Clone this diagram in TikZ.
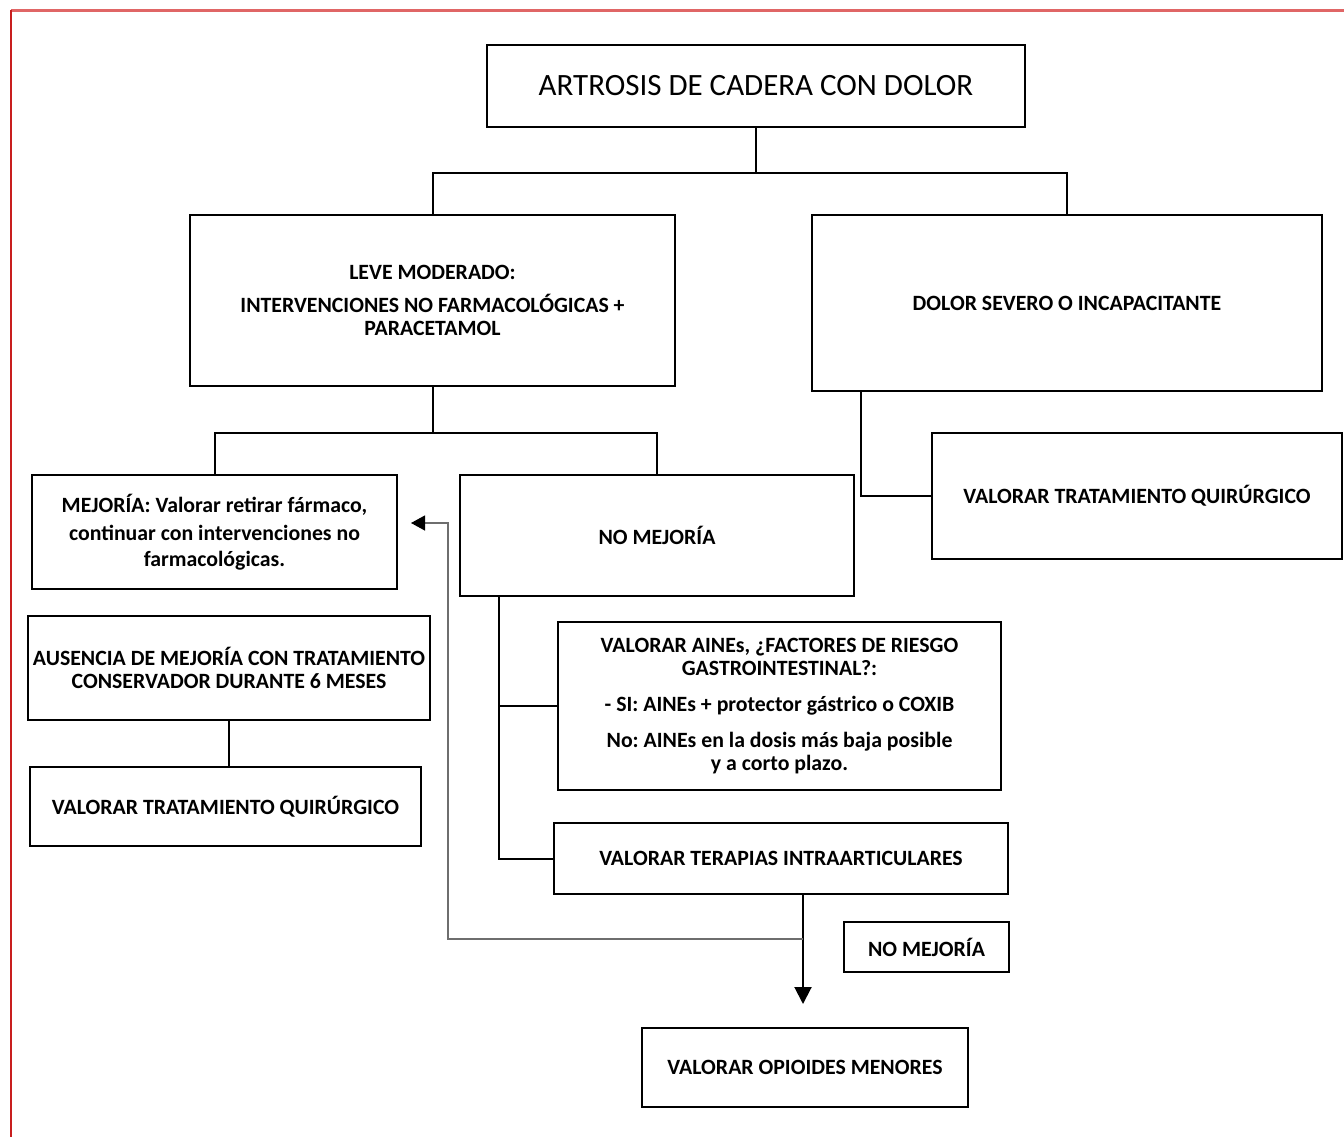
\documentclass[tikz,border=0pt]{standalone}
\usepackage{fontspec}
\setmainfont{Carlito}
\frenchspacing
\usetikzlibrary{arrows.meta}
\definecolor{frameA}{RGB}{224,102,102}
\definecolor{frameB}{RGB}{200,30,30}
\definecolor{fbgray}{RGB}{110,110,110}
\begin{document}
\begin{tikzpicture}[x=1pt,y=-1pt,
  box/.style={draw,line width=2pt,inner sep=0pt,align=center,
    font=\bfseries\fontsize{21.8}{23}\selectfont},
  conn/.style={line width=2pt},
  fb/.style={line width=1.3pt,draw=fbgray}]
\useasboundingbox[fill=white] (0,0) rectangle (1344,1137);
\draw[line width=3pt,frameA] (11,11) -- (1344,11);
\draw[line width=2pt,frameB] (11,10) -- (11,1137);

\node[box,font=\fontsize{31}{36}\selectfont,minimum width=538,minimum height=82] (title) at (756,86) {ARTROSIS DE CADERA CON DOLOR};
\node[box,minimum width=485,minimum height=171] (leve) at (432.5,300.5) {LEVE MODERADO:\\[10pt] INTERVENCIONES NO FARMACOLÓGICAS +\\ PARACETAMOL};
\node[box,minimum width=510,minimum height=176] (sev) at (1067,303) {DOLOR SEVERO O INCAPACITANTE};
\node[box,minimum width=365,minimum height=114] (mej) at (214.5,532) {MEJORÍA: Valorar retirar fármaco,\\[5pt] continuar con intervenciones no\\[3pt] farmacológicas.};
\node[box,minimum width=394,minimum height=121] (nomej) at (657,535.5) {NO MEJORÍA};
\node[box,minimum width=410,minimum height=126] (quirR) at (1137,496) {VALORAR TRATAMIENTO QUIRÚRGICO};
\node[box,minimum width=402,minimum height=104] (aus) at (229,668) {AUSENCIA DE MEJORÍA CON TRATAMIENTO\\ CONSERVADOR DURANTE 6 MESES};
\node[box,minimum width=391,minimum height=79] (quirL) at (225.5,806.5) {VALORAR TRATAMIENTO QUIRÚRGICO};
\node[box,minimum width=443,minimum height=168] (aines) at (779.5,706) {VALORAR AINEs, ¿FACTORES DE RIESGO\\ GASTROINTESTINAL?:\\[13pt] - SI: AINEs + protector gástrico o COXIB\\[13pt] No: AINEs en la dosis más baja posible\\ y a corto plazo.};
\node[box,minimum width=454,minimum height=71] (intra) at (781,858.5) {VALORAR TERAPIAS INTRAARTICULARES};
\node[box,minimum width=165,minimum height=50] (nomej2) at (926.5,947) {NO MEJORÍA};
\node[box,minimum width=326,minimum height=79] (opi) at (805,1067.5) {VALORAR OPIOIDES MENORES};

% top split
\coordinate (t1) at ([yshift=-45pt]title.south);
\draw[conn] (title.south) -- (t1);
\draw[conn] (leve.north) |- (t1) -| (sev.north);
% leve split
\coordinate (l1) at ([yshift=-46pt]leve.south);
\draw[conn] (leve.south) -- (l1);
\draw[conn] (mej.north) |- (l1) -| (nomej.north);
% severe to surgery
\coordinate (s1) at ([xshift=50pt]sev.south west);
\draw[conn] (s1) |- (quirR.west);
% no mejoria branches
\coordinate (n1) at ([xshift=40pt]nomej.south west);
\draw[conn] (n1) |- (intra.west);
\draw[conn] (aines.west) -| (n1);
% ausencia to surgery
\draw[conn] (aus.south) -- (aus.south |- quirL.north);
% intra to opioids
\coordinate (i1) at ([xshift=250pt]intra.south west);
\coordinate (a1) at ([yshift=23pt]i1 |- opi.north);
\draw[conn,-{Triangle[length=17pt,width=17pt]}] (i1) -- (a1);
% feedback to mejoria
\coordinate (d1) at ([yshift=-44pt]i1);
\coordinate (m1) at ([xshift=13pt]mej.east);
\draw[fb,-{Triangle[length=14pt,width=15pt,black]}] (d1) -| (448,523) -- (m1 |- 0,523);
\end{tikzpicture}
\end{document}
